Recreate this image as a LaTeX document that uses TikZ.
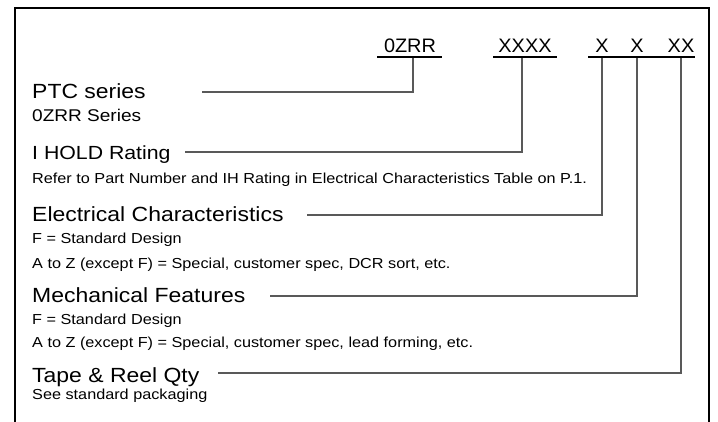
\documentclass[tikz,border=0pt]{standalone}
\usepackage{fontspec}
\setmainfont[FakeStretch=1.12]{Liberation Sans}
\newfontfamily\codefont[FakeStretch=1.02]{Liberation Sans}
\begin{document}
\begin{tikzpicture}[x=1pt,y=-1pt,
  lbl/.style={anchor=base west,inner sep=0pt,font=\fontsize{20.5}{22}\selectfont},
  sub/.style={anchor=base west,inner sep=0pt,font=\fontsize{14.5}{16}\selectfont},
  code/.style={anchor=base,inner sep=0pt,font=\codefont\fontsize{19.5}{20}\selectfont},
  uline/.style={line width=2.8pt,black},
  conn/.style={line width=1.7pt,black!65},
  frame/.style={line width=2.5pt,black}]
\useasboundingbox (0,0) rectangle (718,422);
\fill[white] (0,0) rectangle (718,422);
% frame
\draw[frame] (15,423) -- (15,8) -- (709,8) -- (709,423);
% code labels
\node[code] (c0) at (410,53) {0ZRR};
\node[code] (c1) at (525,53) {XXXX};
\node[code] (c2) at (602,53) {X};
\node[code] (c3) at (637,53) {X};
\node[code] (c4) at (681,53) {XX};
\draw[uline] (377,57) -- (442,57);
\draw[uline] (493,57) -- (557,57);
\draw[uline] (588,57) -- (695,57);
\coordinate (t0) at (413,58);
\coordinate (t1) at (522,58);
\coordinate (t2) at (602,58);
\coordinate (t3) at (637,58);
\coordinate (t4) at (681,58);
% labels
\node[lbl] (ptc) at (32,99) {PTC series};
\node[sub,font=\fontsize{17}{18}\selectfont] (ptcs) at (32,122) {0ZRR Series};
\node[lbl,font=\fontsize{19}{20}\selectfont] (ihold) at (32,160) {I HOLD Rating};
\node[sub] (refer) at (32,184) {Refer to Part Number and IH Rating in Electrical Characteristics Table on P.1.};
\node[lbl] (elec) at (32,222) {Electrical Characteristics};
\node[sub] (e1) at (32,244) {F = Standard Design};
\node[sub] (e2) at (32,269) {A to Z (except F) = Special, customer spec, DCR sort, etc.};
\node[lbl] (mech) at (32,303) {Mechanical Features};
\node[sub] (m1) at (32,324) {F = Standard Design};
\node[sub] (m2) at (32,348) {A to Z (except F) = Special, customer spec, lead forming, etc.};
\node[lbl] (tape) at (32,382) {Tape \& Reel Qty};
\node[sub] (tp1) at (32,399) {See standard packaging};
% connector ends
\coordinate (p0) at (202,92);
\coordinate (p1) at (185,152);
\coordinate (p2) at (307,215);
\coordinate (p3) at (270,296);
\coordinate (p4) at (218,373);
\draw[conn] (t0) |- (p0);
\draw[conn] (t1) |- (p1);
\draw[conn] (t2) |- (p2);
\draw[conn] (t3) |- (p3);
\draw[conn] (t4) |- (p4);
\end{tikzpicture}
\end{document}
